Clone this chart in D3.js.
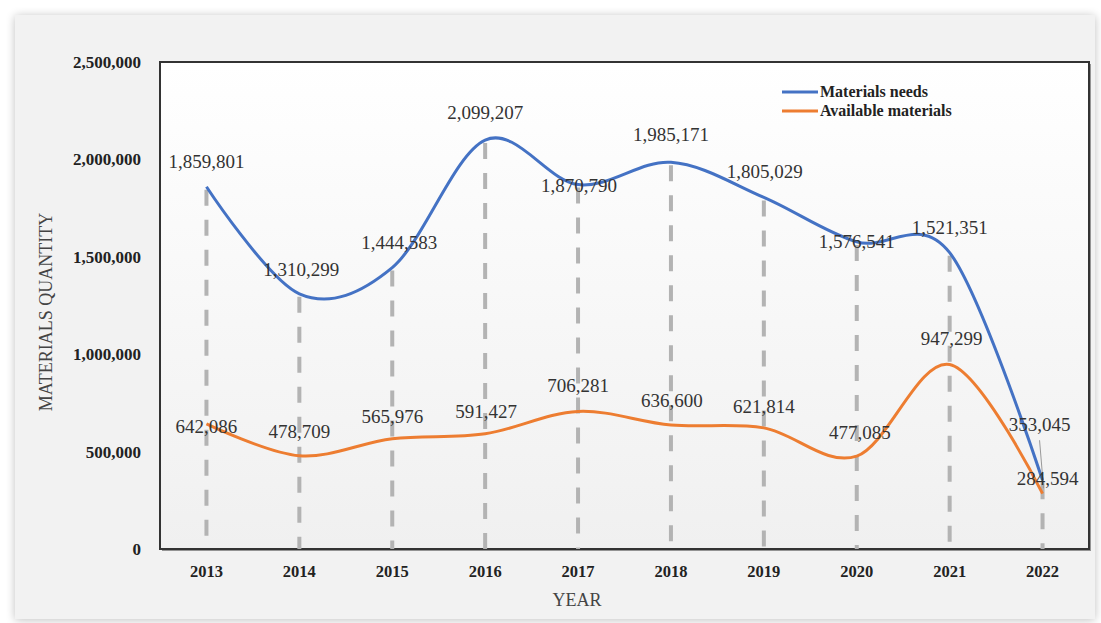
<!DOCTYPE html>
<meta charset="utf-8">
<script src="https://d3js.org/d3.v7.min.js"></script>
<style>
  body { margin: 0; background: #fff; }
  text { font-family: "Liberation Serif", "Times New Roman", serif; }
</style>
<div id="chart"></div>
<script>
// Data
var years = ["2013", "2014", "2015", "2016", "2017", "2018", "2019", "2020", "2021", "2022"];
var needs = [1859801, 1310299, 1444583, 2099207, 1870790, 1985171, 1805029, 1576541, 1521351, 353045];
var available = [642086, 478709, 565976, 591427, 706281, 636600, 621814, 477085, 947299, 284594];
var yTicks = [0, 500000, 1000000, 1500000, 2000000, 2500000];
var seriesNames = ["Materials needs", "Available materials"];

// label nudges (dx, dy from point)
var needsShift = [[0,-19],[2,-18],[7,-19],[0,-21],[1,7],[0,-21],[1,-19],[0,6],[0,-19],[-3,-49]];
var availShift = [[0,9],[0,-18],[0,-16],[1,-16],[0,-19],[1,-18],[0,-15],[3,-17],[2,-19],[5,-9]];

var W = 1101, H = 623;
var margin = {top: 62, right: 12, bottom: 74, left: 160},
    width = W - margin.left - margin.right,
    height = H - margin.top - margin.bottom;

var svg = d3.select("#chart").append("svg")
    .attr("width", W)
    .attr("height", H);

var defs = svg.append("defs");
var sh = defs.append("filter").attr("id", "shadow")
    .attr("x", "-5%").attr("y", "-5%").attr("width", "110%").attr("height", "110%");
sh.append("feGaussianBlur").attr("in", "SourceAlpha").attr("stdDeviation", 5);
sh.append("feOffset").attr("dx", 0).attr("dy", 1).attr("result", "b");
sh.append("feComponentTransfer").append("feFuncA").attr("type", "linear").attr("slope", 0.25);
var m = sh.append("feMerge");
m.append("feMergeNode");
m.append("feMergeNode").attr("in", "SourceGraphic");

var grad = defs.append("linearGradient").attr("id", "plotbg")
    .attr("x1", 0).attr("y1", 0).attr("x2", 0).attr("y2", 1);
grad.append("stop").attr("offset", "0%").attr("stop-color", "#ffffff");
grad.append("stop").attr("offset", "100%").attr("stop-color", "#f0f0f0");

// outer panel
svg.append("rect")
    .attr("x", 15).attr("y", 15).attr("width", 1080).attr("height", 604)
    .attr("fill", "#f2f2f2")
    .attr("filter", "url(#shadow)");

var g = svg.append("g")
    .attr("transform", "translate(" + margin.left + "," + margin.top + ")");

// plot area
g.append("rect")
    .attr("x", 2).attr("y", 2).attr("width", width).attr("height", height)
    .attr("fill", "#555").attr("opacity", 0.6);
g.append("rect")
    .attr("width", width).attr("height", height)
    .attr("fill", "url(#plotbg)")
    .attr("stroke", "#333").attr("stroke-width", 2);

var x = d3.scaleBand()
  .domain(years)
  .range([0, width]);

var y = d3.scaleLinear()
  .domain([0, 2500000])
  .range([height, 0]);

var cx = function(i) { return x(years[i]) + x.bandwidth() / 2; };

// Y axis
var yAxis = g.append("g")
  .call(d3.axisLeft(y).tickValues(yTicks).tickSize(0).tickPadding(19)
    .tickFormat(d3.format(",")));
yAxis.select(".domain").remove();
yAxis.selectAll("text")
  .style("font-family", "'Liberation Serif', serif")
  .style("font-size", "17px")
  .style("font-weight", "bold")
  .attr("fill", "#222");

// X axis
var xAxis = g.append("g")
  .attr("transform", "translate(0," + height + ")")
  .call(d3.axisBottom(x).tickSize(0).tickPadding(16));
xAxis.select(".domain").remove();
xAxis.selectAll("text")
  .style("font-family", "'Liberation Serif', serif")
  .style("font-size", "16.5px")
  .style("font-weight", "bold")
  .attr("fill", "#222");

// drop lines
g.selectAll(".drop")
  .data(years)
  .enter()
  .append("line")
    .attr("x1", function(d, i) { return cx(i); })
    .attr("x2", function(d, i) { return cx(i); })
    .attr("y1", function(d, i) { return y(Math.max(needs[i], available[i])) + 3; })
    .attr("y2", height)
    .attr("stroke", "#b3b3b3")
    .attr("stroke-width", 4)
    .attr("stroke-dasharray", "16,14");

var line = d3.line()
  .x(function(d, i) { return cx(i); })
  .y(function(d) { return y(d); })
  .curve(d3.curveCardinal.tension(0));

var colors = ["#4472C4", "#ED7D31"];
[needs, available].forEach(function(s, k) {
  g.append("path")
    .datum(s)
    .attr("d", line)
    .attr("fill", "none")
    .attr("stroke", colors[k])
    .attr("stroke-width", 3);
});

// leader line for 2022 needs
g.append("line")
  .attr("x1", cx(9) - 3).attr("y1", y(needs[9]) + needsShift[9][1] + 9)
  .attr("x2", cx(9) + 1).attr("y2", y(needs[9]) + 8)
  .attr("stroke", "#999").attr("stroke-width", 1);

// value labels
[[needs, needsShift], [available, availShift]].forEach(function(p) {
  g.selectAll(null)
    .data(p[0])
    .enter()
    .append("text")
      .attr("x", function(d, i) { return cx(i) + p[1][i][0]; })
      .attr("y", function(d, i) { return y(d) + p[1][i][1]; })
      .attr("text-anchor", "middle")
      .style("font-size", "19px")
      .attr("fill", "#333")
      .text(function(d) { return d3.format(",")(d); });
});

// legend
var legend = g.append("g").attr("transform", "translate(622,30)");
seriesNames.forEach(function(n, k) {
  legend.append("line")
    .attr("x1", 0).attr("x2", 36)
    .attr("y1", k * 19).attr("y2", k * 19)
    .attr("stroke", colors[k]).attr("stroke-width", 3);
  legend.append("text")
    .attr("x", 38).attr("y", k * 19 + 5)
    .style("font-size", "16px")
    .style("font-weight", "bold")
    .attr("fill", "#222")
    .text(n);
});

// axis titles
svg.append("text")
  .attr("transform", "translate(52,312)rotate(-90)")
  .attr("text-anchor", "middle")
  .style("font-size", "18px")
  .attr("fill", "#444")
  .text("MATERIALS QUANTITY");

svg.append("text")
  .attr("x", 577).attr("y", 606)
  .attr("text-anchor", "middle")
  .style("font-size", "18px")
  .attr("fill", "#444")
  .text("YEAR");
</script>
